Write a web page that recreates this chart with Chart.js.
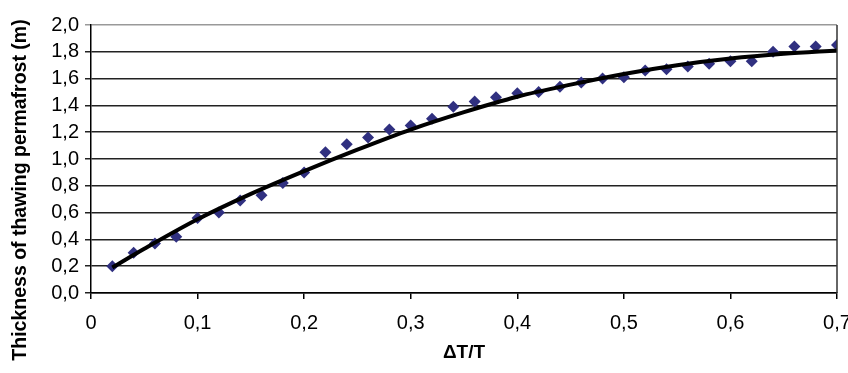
<!DOCTYPE html>
<html>
<head>
<meta charset="utf-8">
<script src="https://cdn.jsdelivr.net/npm/chart.js@4/dist/chart.umd.min.js"></script>
<style>
  html, body { margin: 0; padding: 0; background: #fff; }
  #wrap { width: 848px; height: 373px; }
</style>
</head>
<body>
<div id="wrap"><canvas id="thawChart" width="848" height="373"></canvas></div>
<script>
// measured points (dT/T vs thawing thickness)
const ratioValues = [0.02, 0.04, 0.06, 0.08, 0.10, 0.12, 0.14, 0.16, 0.18, 0.20,
                     0.22, 0.24, 0.26, 0.28, 0.30, 0.32, 0.34, 0.36, 0.38, 0.40,
                     0.42, 0.44, 0.46, 0.48, 0.50, 0.52, 0.54, 0.56, 0.58, 0.60,
                     0.62, 0.64, 0.66, 0.68, 0.70];
const thicknessValues = [0.20, 0.30, 0.37, 0.42, 0.56, 0.60, 0.69, 0.73, 0.82, 0.90,
                         1.05, 1.11, 1.16, 1.22, 1.25, 1.30, 1.39, 1.43, 1.46, 1.49,
                         1.50, 1.54, 1.57, 1.60, 1.61, 1.66, 1.67, 1.69, 1.71, 1.73,
                         1.73, 1.80, 1.84, 1.84, 1.85];

// trend curve
const trendX = [0.02, 0.05, 0.10, 0.15, 0.20, 0.25, 0.30, 0.35, 0.40, 0.45, 0.50, 0.55, 0.60, 0.65, 0.70];
const trendY = [0.19, 0.33, 0.55, 0.74, 0.91, 1.07, 1.22, 1.35, 1.465, 1.555, 1.635, 1.70, 1.75, 1.785, 1.81];

const xTicks = [0, 0.1, 0.2, 0.3, 0.4, 0.5, 0.6, 0.7];
const yTicks = [0, 0.2, 0.4, 0.6, 0.8, 1.0, 1.2, 1.4, 1.6, 1.8, 2.0];
const yTitle = 'Thickness of thawing permafrost (m)';

const fontFamily = "'Liberation Sans', Arial, sans-serif";
const tickFont = { family: fontFamily, size: 20 };

// right border of plot area + y title (centred on the whole picture like the original)
const frameExtras = {
    id: 'frameExtras',
    afterDraw(chart) {
        const { ctx, chartArea } = chart;
        ctx.save();
        ctx.strokeStyle = '#333';
        ctx.lineWidth = 1.5;
        ctx.beginPath();
        ctx.moveTo(chartArea.right, chartArea.top);
        ctx.lineTo(chartArea.right, chartArea.bottom);
        ctx.stroke();

        ctx.translate(21, 190);
        ctx.rotate(-Math.PI / 2);
        ctx.fillStyle = '#000';
        ctx.font = 'bold 19.5px ' + fontFamily;
        ctx.textAlign = 'center';
        ctx.textBaseline = 'middle';
        ctx.fillText(yTitle, 0, 0);
        ctx.restore();
    }
};

new Chart(document.getElementById('thawChart'), {
    type: 'scatter',
    data: {
        datasets: [
            {
                label: 'trend',
                data: trendX.map((x, i) => ({ x: x, y: trendY[i] })),
                showLine: true,
                borderColor: '#000',
                borderWidth: 4,
                pointRadius: 0,
                cubicInterpolationMode: 'monotone',
                order: 0
            },
            {
                label: 'measured',
                data: ratioValues.map((x, i) => ({ x: x, y: thicknessValues[i] })),
                pointStyle: 'rectRot',
                pointRadius: 6,
                backgroundColor: '#303080',
                borderColor: '#303080',
                borderWidth: 0,
                order: 1
            }
        ]
    },
    options: {
        responsive: false,
        animation: false,
        layout: { padding: { top: 25, right: 11, left: 0, bottom: 0 } },
        plugins: {
            legend: { display: false },
            tooltip: { enabled: false }
        },
        scales: {
            x: {
                type: 'linear',
                min: 0,
                max: 0.7,
                afterBuildTicks: (scale) => { scale.ticks = xTicks.map(v => ({ value: v })); },
                afterFit: (scale) => { scale.paddingRight = 0; scale.paddingLeft = 0; scale.height = 80; },
                grid: { drawOnChartArea: false, drawTicks: true, tickLength: 6, color: '#000', lineWidth: 1.5 },
                border: { color: '#000', width: 1.5 },
                ticks: {
                    color: '#000',
                    font: tickFont,
                    padding: 12,
                    autoSkip: false,
                    maxRotation: 0,
                    callback: (v) => v === 0 ? '0' : v.toFixed(1).replace('.', ',')
                },
                title: {
                    display: true,
                    text: 'ΔT/T',
                    color: '#000',
                    font: { family: fontFamily, size: 19, weight: 'bold' },
                    padding: { top: 0, bottom: 9 }
                }
            },
            y: {
                min: 0,
                max: 2,
                afterBuildTicks: (scale) => { scale.ticks = yTicks.map(v => ({ value: v })); },
                afterFit: (scale) => { scale.width = 91; },
                grid: {
                    drawTicks: true,
                    tickLength: 6,
                    color: (c) => c.tick && c.tick.value === 2 ? '#999' : '#222',
                    lineWidth: 1.5
                },
                border: { color: '#000', width: 1.5 },
                ticks: {
                    color: '#000',
                    font: tickFont,
                    padding: 6,
                    autoSkip: false,
                    callback: (v) => v.toFixed(1).replace('.', ',')
                },
                title: { display: false }
            }
        }
    },
    plugins: [frameExtras]
});
</script>
</body>
</html>
